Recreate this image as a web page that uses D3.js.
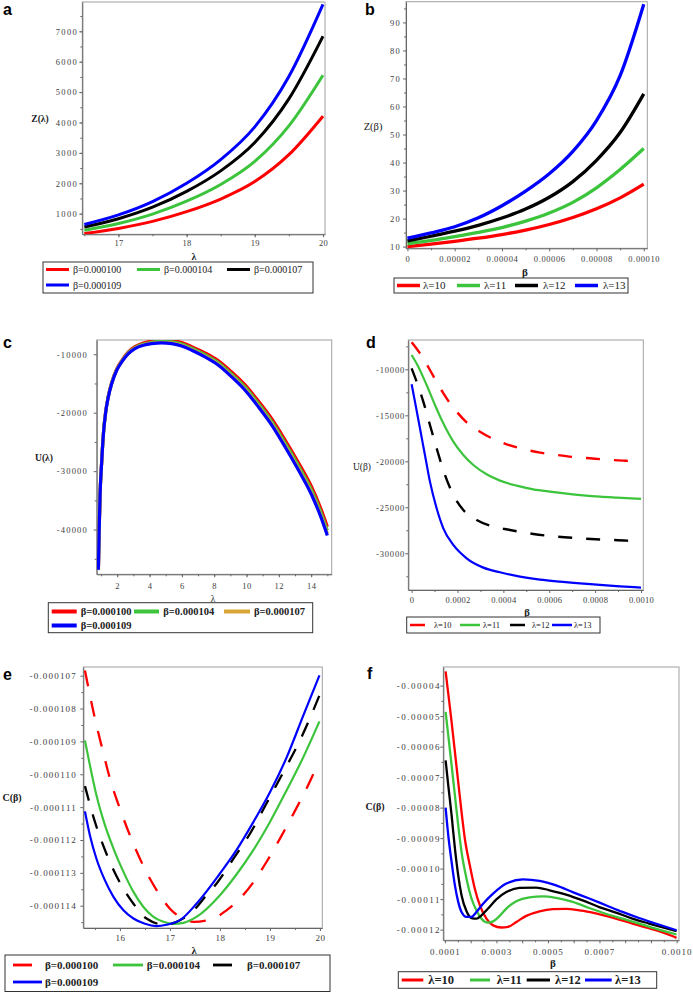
<!DOCTYPE html>
<html><head><meta charset="utf-8">
<script src="https://cdn.jsdelivr.net/npm/d3@7"></script>
<style>body{margin:0;background:#fff}svg{display:block}</style>
</head><body>
<svg id="c" width="693" height="992"></svg>
<script>
// ---------------- DATA ----------------
const betaLabels = ["β=0.000100", "β=0.000104", "β=0.000107", "β=0.000109"];
const lambdaLabels = ["λ=10", "λ=11", "λ=12", "λ=13"];

// Panel a : Z(λ)
const aLambda = [16.5, 17, 17.5, 18, 18.5, 19, 19.5, 20];
const aZ100 = [344, 512, 745, 1066, 1481, 2056, 2940, 4208];
const aZ104 = [455, 676, 986, 1410, 1959, 2719, 3888, 5555];
const aZ107 = [559, 832, 1212, 1732, 2407, 3341, 4777, 6836];
const aZ109 = [645, 959, 1397, 1998, 2777, 3855, 5512, 7887];
const aXTicks = [17, 18, 19, 20];
const aYTicks = [1000, 2000, 3000, 4000, 5000, 6000, 7000];

// Panel b : Z(β)
const bBeta = [0, 1e-5, 2e-5, 3e-5, 4e-5, 5e-5, 6e-5, 7e-5, 8e-5, 9e-5, 1e-4];
const bZ10 = [10.0, 10.9, 11.9, 13.0, 14.3, 15.9, 17.9, 20.4, 23.5, 27.4, 32.3];
const bZ11 = [11.0, 12.2, 13.6, 15.1, 16.8, 19.1, 22.0, 25.8, 31.0, 37.5, 45.0];
const bZ12 = [12.0, 13.7, 15.5, 17.6, 20.2, 23.4, 27.6, 33.2, 40.8, 50.7, 64.5];
const bZ13 = [13.0, 14.9, 17.1, 20.3, 24.6, 29.8, 36.0, 44.0, 55.0, 71.0, 96.5];
const bXTicks = [0, 2e-5, 4e-5, 6e-5, 8e-5, 1e-4];
const bYTicks = [10, 20, 30, 40, 50, 60, 70, 80, 90];

// Panel c : U(λ)
const cLambda = [0.835, 0.876, 0.938, 1.04, 1.14, 1.29, 1.45, 1.66, 1.97, 2.28, 2.69, 3.10, 3.62, 4.13, 4.75, 5.37, 5.99, 6.61, 7.43, 8.26, 9.08, 9.91, 10.73, 11.56, 12.38, 13.21, 14.03, 14.55, 15.0];
const cU100 = [-46880, -40850, -34000, -28280, -23710, -19710, -17130, -14830, -12520, -11070, -9610, -8710, -8090, -7760, -7590, -7660, -8010, -8700, -9770, -11120, -13030, -15230, -17990, -21030, -24640, -28530, -32700, -36050, -39500];
const cU104 = [-46880, -40872, -34035, -28324, -23763, -19772, -17200, -14909, -12612, -11176, -9733, -8851, -8253, -7945, -7797, -7889, -8261, -8973, -10074, -11454, -13400, -15635, -18430, -21510, -25159, -29093, -33307, -36684, -40160];
const cU107 = [-46880, -40889, -34062, -28358, -23804, -19819, -17255, -14970, -12684, -11257, -9828, -8960, -8379, -8088, -7957, -8066, -8455, -9184, -10308, -11713, -13685, -15948, -18770, -21880, -25560, -29528, -33776, -37173, -40670];
const cU109 = [-46880, -40900, -34080, -28380, -23830, -19850, -17290, -15010, -12730, -11310, -9890, -9030, -8460, -8180, -8060, -8180, -8580, -9320, -10460, -11880, -13870, -16150, -18990, -22120, -25820, -29810, -34080, -37490, -41000];
const cXTicks = [2, 4, 6, 8, 10, 12, 14];
const cYTicks = [-10000, -20000, -30000, -40000];

// Panel d : U(β)
const dBeta10 = [0, 0.363e-4, 0.799e-4, 1.163e-4, 1.526e-4, 1.962e-4, 2.398e-4, 2.980e-4, 3.561e-4, 4.142e-4, 4.869e-4, 5.596e-4, 6.323e-4, 7.049e-4, 7.776e-4, 8.503e-4, 9.230e-4, 10e-4];
const dU10 = [-7065, -8261, -10072, -11703, -13152, -14601, -15761, -16775, -17572, -18152, -18659, -19058, -19311, -19529, -19674, -19819, -19928, -20036];
const dBeta11 = [0, 0.291e-4, 0.654e-4, 1.017e-4, 1.381e-4, 1.817e-4, 2.253e-4, 2.689e-4, 3.270e-4, 3.852e-4, 4.578e-4, 5.305e-4, 6.032e-4, 6.759e-4, 7.485e-4, 8.212e-4, 8.939e-4, 10e-4];
const dU11 = [-8442, -9710, -11703, -13877, -15869, -17862, -19311, -20398, -21413, -22101, -22645, -23043, -23297, -23514, -23695, -23840, -23949, -24094];
const dBeta12 = [0, 0.218e-4, 0.509e-4, 0.799e-4, 1.090e-4, 1.453e-4, 1.817e-4, 2.253e-4, 2.834e-4, 3.416e-4, 4.288e-4, 5.305e-4, 6.323e-4, 7.340e-4, 8.358e-4, 9.375e-4, 10e-4];
const dU12 = [-9891, -11341, -13514, -16050, -18587, -21485, -23659, -25289, -26376, -26992, -27463, -27898, -28188, -28369, -28514, -28623, -28731];
const dBeta13 = [0, 0.145e-4, 0.363e-4, 0.581e-4, 0.799e-4, 1.090e-4, 1.381e-4, 1.817e-4, 2.398e-4, 3.125e-4, 3.852e-4, 4.724e-4, 5.596e-4, 6.468e-4, 7.340e-4, 8.212e-4, 9.084e-4, 10e-4];
const dU13 = [-11630, -13514, -16413, -19311, -22210, -25108, -27282, -29094, -30543, -31557, -32065, -32536, -32862, -33079, -33260, -33441, -33586, -33731];
const dXTicks = [0, 2e-4, 4e-4, 6e-4, 8e-4, 10e-4];
const dYTicks = [-10000, -15000, -20000, -25000, -30000];

// Panel e : C(β) vs λ
const eLam100 = [15.30, 15.40, 15.50, 15.63, 15.80, 16.00, 16.20, 16.40, 16.60, 16.80, 17.00, 17.20, 17.47, 17.87, 18.13, 18.40, 18.67, 18.93, 19.20, 19.47, 19.73, 19.99];
const eC100 = [-106.84e-6, -107.60e-6, -108.31e-6, -109.12e-6, -110.13e-6, -111.05e-6, -111.86e-6, -112.57e-6, -113.18e-6, -113.68e-6, -114.09e-6, -114.34e-6, -114.49e-6, -114.39e-6, -114.14e-6, -113.78e-6, -113.28e-6, -112.67e-6, -111.96e-6, -111.20e-6, -110.44e-6, -109.58e-6];
const eLam104 = [15.30, 15.40, 15.53, 15.70, 15.87, 16.07, 16.27, 16.47, 16.67, 16.87, 17.07, 17.27, 17.53, 18.00, 18.33, 18.67, 19.00, 19.33, 19.67, 19.99];
const eC104 = [-108.97e-6, -109.73e-6, -110.64e-6, -111.55e-6, -112.26e-6, -112.97e-6, -113.58e-6, -114.04e-6, -114.34e-6, -114.49e-6, -114.55e-6, -114.52e-6, -114.34e-6, -113.68e-6, -113.05e-6, -112.30e-6, -111.45e-6, -110.50e-6, -109.47e-6, -108.39e-6];
const eLam107 = [15.30, 15.50, 15.73, 16.03, 16.27, 16.53, 16.90, 17.20, 17.43, 17.73, 17.93, 18.27, 18.60, 18.93, 19.27, 19.60, 19.99];
const eC107 = [-110.36e-6, -111.45e-6, -112.42e-6, -113.38e-6, -113.94e-6, -114.39e-6, -114.58e-6, -114.44e-6, -114.21e-6, -113.68e-6, -113.33e-6, -112.57e-6, -111.81e-6, -110.89e-6, -109.93e-6, -108.97e-6, -107.60e-6];
const eLam109 = [15.30, 15.40, 15.53, 15.70, 15.87, 16.07, 16.27, 16.50, 16.73, 16.93, 17.20, 17.53, 18.00, 18.33, 18.67, 19.00, 19.33, 19.67, 19.99];
const eC109 = [-111.13e-6, -111.86e-6, -112.57e-6, -113.23e-6, -113.73e-6, -114.14e-6, -114.39e-6, -114.55e-6, -114.62e-6, -114.58e-6, -114.44e-6, -113.94e-6, -113.02e-6, -112.31e-6, -111.45e-6, -110.55e-6, -109.50e-6, -108.20e-6, -106.99e-6];
const eXTicks = [16, 17, 18, 19, 20];
const eYTicks = [-107e-6, -108e-6, -109e-6, -110e-6, -111e-6, -112e-6, -113e-6, -114e-6];

// Panel f : C(β) vs β
const fB10 = [1.026e-4, 1.129e-4, 1.258e-4, 1.387e-4, 1.515e-4, 1.644e-4, 1.773e-4, 1.966e-4, 2.160e-4, 2.353e-4, 2.611e-4, 2.869e-4, 3.191e-4, 3.448e-4, 3.771e-4, 4.157e-4, 4.673e-4, 5.188e-4, 5.704e-4, 6.219e-4, 6.735e-4, 7.250e-4, 7.765e-4, 8.281e-4, 8.796e-4, 9.312e-4, 9.827e-4, 9.995e-4];
const fC10 = [-3.53e-5, -4.26e-5, -5.19e-5, -6.17e-5, -7.16e-5, -8.14e-5, -9.02e-5, -9.89e-5, -10.66e-5, -11.20e-5, -11.64e-5, -11.86e-5, -11.93e-5, -11.91e-5, -11.75e-5, -11.55e-5, -11.40e-5, -11.33e-5, -11.32e-5, -11.37e-5, -11.44e-5, -11.55e-5, -11.67e-5, -11.80e-5, -11.93e-5, -12.05e-5, -12.21e-5, -12.27e-5];
const fB11 = [1.026e-4, 1.129e-4, 1.258e-4, 1.387e-4, 1.515e-4, 1.644e-4, 1.838e-4, 2.031e-4, 2.224e-4, 2.418e-4, 2.675e-4, 2.869e-4, 3.126e-4, 3.384e-4, 3.771e-4, 4.286e-4, 4.802e-4, 5.317e-4, 5.961e-4, 6.606e-4, 7.250e-4, 7.894e-4, 8.539e-4, 9.183e-4, 9.995e-4];
const fC11 = [-4.86e-5, -5.63e-5, -6.61e-5, -7.60e-5, -8.58e-5, -9.45e-5, -10.33e-5, -10.98e-5, -11.37e-5, -11.64e-5, -11.77e-5, -11.73e-5, -11.55e-5, -11.31e-5, -11.07e-5, -10.94e-5, -10.91e-5, -10.96e-5, -11.09e-5, -11.29e-5, -11.48e-5, -11.64e-5, -11.80e-5, -11.97e-5, -12.16e-5];
const fB12 = [1.026e-4, 1.129e-4, 1.258e-4, 1.387e-4, 1.515e-4, 1.644e-4, 1.838e-4, 2.031e-4, 2.224e-4, 2.418e-4, 2.675e-4, 2.997e-4, 3.384e-4, 3.899e-4, 4.544e-4, 5.059e-4, 5.704e-4, 6.348e-4, 6.992e-4, 7.637e-4, 8.281e-4, 8.925e-4, 9.570e-4, 9.995e-4];
const fC12 = [-6.45e-5, -7.27e-5, -8.25e-5, -9.34e-5, -10.22e-5, -10.87e-5, -11.40e-5, -11.62e-5, -11.64e-5, -11.53e-5, -11.31e-5, -11.01e-5, -10.77e-5, -10.63e-5, -10.62e-5, -10.71e-5, -10.85e-5, -11.04e-5, -11.26e-5, -11.44e-5, -11.64e-5, -11.80e-5, -11.95e-5, -12.05e-5];
const fB13 = [1.026e-4, 1.129e-4, 1.258e-4, 1.387e-4, 1.515e-4, 1.644e-4, 1.838e-4, 2.031e-4, 2.224e-4, 2.482e-4, 2.869e-4, 3.384e-4, 4.028e-4, 4.673e-4, 5.317e-4, 5.961e-4, 6.606e-4, 7.250e-4, 7.894e-4, 8.539e-4, 9.183e-4, 9.995e-4];
const fC13 = [-8.00e-5, -8.91e-5, -9.78e-5, -10.55e-5, -11.09e-5, -11.42e-5, -11.58e-5, -11.58e-5, -11.42e-5, -11.15e-5, -10.82e-5, -10.49e-5, -10.35e-5, -10.40e-5, -10.55e-5, -10.77e-5, -10.98e-5, -11.20e-5, -11.42e-5, -11.62e-5, -11.80e-5, -12.02e-5];
const fXTicks = [1e-4, 2e-4, 3e-4, 4e-4, 5e-4, 6e-4, 7e-4, 8e-4, 9e-4, 10e-4];
const fXLabelled = [1e-4, 3e-4, 5e-4, 7e-4, 10e-4];
const fYTicks = [-4e-5, -5e-5, -6e-5, -7e-5, -8e-5, -9e-5, -10e-5, -11e-5, -12e-5];

// ---------------- DRAWING ----------------
const RED = "#ff0000", GREEN = "#3cc43c", BLACK = "#000000", BLUE = "#0000ff", ORANGE = "#d9a537";
const SERIF = "'Liberation Serif','Times New Roman',serif";
const SANS = "'Liberation Sans',Arial,sans-serif";
const svg = d3.select("#c");

function range(a, b, s) { const r = []; for (let v = a; v <= b + s * 1e-6; v += s) r.push(+v.toPrecision(10)); return r; }

function panel(cfg) {
  const g = svg.append("g");
  const x = d3.scaleLinear().domain(cfg.xDomain).range([cfg.l, cfg.r]);
  const y = d3.scaleLinear().domain(cfg.yDomain).range([cfg.b, cfg.t]);
  const cid = "clip_" + cfg.name;
  g.append("clipPath").attr("id", cid).append("rect")
    .attr("x", cfg.l).attr("y", cfg.t).attr("width", cfg.r - cfg.l).attr("height", cfg.b - cfg.t);
  g.append("rect").attr("x", cfg.l).attr("y", cfg.t).attr("width", cfg.r - cfg.l).attr("height", cfg.b - cfg.t)
    .attr("fill", "none").attr("stroke", "#a0a0a0").attr("stroke-width", 1);

  // minor ticks
  g.append("g").attr("transform", `translate(0,${cfg.b})`)
    .call(d3.axisBottom(x).tickValues(cfg.xMinor).tickSize(2).tickSizeOuter(0).tickFormat(""))
    .call(s => { s.select(".domain").remove(); s.selectAll("line").attr("stroke", "#666"); });
  g.append("g").attr("transform", `translate(${cfg.l},0)`)
    .call(d3.axisLeft(y).tickValues(cfg.yMinor).tickSize(2).tickSizeOuter(0).tickFormat(""))
    .call(s => { s.select(".domain").remove(); s.selectAll("line").attr("stroke", "#666"); });

  // major x
  const xa = g.append("g").attr("transform", `translate(0,${cfg.b})`)
    .call(d3.axisBottom(x).tickValues(cfg.xTicks).tickSize(3).tickSizeOuter(0).tickFormat(cfg.xFmt));
  xa.select(".domain").attr("stroke", "#666");
  xa.selectAll("line").attr("stroke", "#666");
  xa.selectAll("text").attr("y", cfg.xLabBase - cfg.b).attr("dy", null)
    .attr("font-family", SERIF).attr("font-size", cfg.tickFs).attr("letter-spacing", cfg.xLs).attr("fill", "#404040");
  // major y
  const ya = g.append("g").attr("transform", `translate(${cfg.l},0)`)
    .call(d3.axisLeft(y).tickValues(cfg.yTicks).tickSize(3).tickSizeOuter(0).tickFormat(cfg.yFmt));
  ya.select(".domain").attr("stroke", "#666");
  ya.selectAll("line").attr("stroke", "#666");
  ya.selectAll("text").attr("x", cfg.yLabRight - cfg.l).attr("dy", "0.33em")
    .attr("font-family", SERIF).attr("font-size", cfg.tickFs).attr("letter-spacing", cfg.yLs).attr("fill", "#404040");

  // curves
  const cg = g.append("g").attr("clip-path", `url(#${cid})`);
  const line = d3.line().x(d => x(d[0])).y(d => y(d[1])).curve(d3.curveMonotoneX);
  cfg.series.forEach(s => {
    cg.append("path").datum(d3.zip(s.x, s.y)).attr("d", line)
      .attr("fill", "none").attr("stroke", s.color).attr("stroke-width", s.w)
      .attr("stroke-dasharray", s.dash || null).attr("stroke-linejoin", "round");
  });

  // texts
  cfg.texts.forEach(t => {
    g.append("text").attr("x", t.x).attr("y", t.y).attr("text-anchor", t.anchor || "middle")
      .attr("font-family", t.family || SERIF).attr("font-size", t.fs).attr("font-weight", t.bold ? "bold" : "normal")
      .attr("fill", t.fill || "#222").text(t.text);
  });

  // legend
  const L = cfg.legend;
  g.append("rect").attr("x", L.box[0]).attr("y", L.box[1]).attr("width", L.box[2] - L.box[0]).attr("height", L.box[3] - L.box[1])
    .attr("fill", "#fff").attr("stroke", "#333").attr("stroke-width", 1);
  L.items.forEach((it, i) => {
    const s = cfg.series[i];
    g.append("line").attr("x1", it[0]).attr("x2", it[1]).attr("y1", it[3]).attr("y2", it[3])
      .attr("stroke", s.color).attr("stroke-width", L.lw).attr("stroke-dasharray", s.dash ? L.dash : null);
    g.append("text").attr("x", it[2]).attr("y", it[3]).attr("dy", "0.35em")
      .attr("font-family", L.family || SERIF).attr("font-size", L.fs).attr("font-weight", L.bold ? "bold" : "normal")
      .attr("letter-spacing", L.ls || 0).attr("fill", "#222").text(L.labels[i]);
  });
}

const intFmt = d => String(d);
const negFmt = d => "-" + Math.abs(d);

// a
panel({
  name: "a", l: 82.3, r: 325, t: 2, b: 234.3,
  xDomain: [16.47, 20.03], yDomain: [321, 7964],
  xTicks: aXTicks, xMinor: range(16.5, 19.5, 0.5), xFmt: intFmt,
  yTicks: aYTicks, yMinor: range(500, 7500, 500), yFmt: intFmt,
  tickFs: 8.5, xLs: 0.3, yLs: 1.3, xLabBase: 246, yLabRight: 78,
  series: [
    { x: aLambda, y: aZ100, color: RED, w: 3 },
    { x: aLambda, y: aZ104, color: GREEN, w: 3 },
    { x: aLambda, y: aZ107, color: BLACK, w: 3 },
    { x: aLambda, y: aZ109, color: BLUE, w: 3 }],
  texts: [
    { text: "a", x: 3, y: 15, fs: 16, bold: true, family: SANS, anchor: "start", fill: "#000" },
    { text: "λ", x: 194, y: 260, fs: 10, bold: true },
    { text: "Z(λ)", x: 40, y: 122, fs: 9.5, bold: true }],
  legend: { box: [43, 262, 313, 293], lw: 3, fs: 10, labels: betaLabels,
    items: [[46, 69, 73, 269.5], [137, 160, 164, 269.5], [227, 250, 254, 269.5], [46, 69, 73, 285]] }
});

// b
panel({
  name: "b", l: 406, r: 647.3, t: 1.7, b: 248.3,
  xDomain: [-0.0000006, 0.0001015], yDomain: [9.4, 97.4],
  xTicks: bXTicks, xMinor: range(0.00001, 0.00009, 0.00002), xFmt: d => d === 0 ? "0" : d.toFixed(5),
  yTicks: bYTicks, yMinor: range(15, 95, 10), yFmt: intFmt,
  tickFs: 8.5, xLs: 0.6, yLs: 1.3, xLabBase: 262, yLabRight: 401,
  series: [
    { x: bBeta, y: bZ10, color: RED, w: 3.3 },
    { x: bBeta, y: bZ11, color: GREEN, w: 3.3 },
    { x: bBeta, y: bZ12, color: BLACK, w: 3.3 },
    { x: bBeta, y: bZ13, color: BLUE, w: 3.3 }],
  texts: [
    { text: "b", x: 365, y: 15, fs: 16, bold: true, family: SANS, anchor: "start", fill: "#000" },
    { text: "β", x: 525, y: 276, fs: 11, bold: true },
    { text: "Z(β)", x: 373, y: 130, fs: 10.5 }],
  legend: { box: [394, 278, 628, 293], lw: 3.5, fs: 11, labels: lambdaLabels,
    items: [[397, 420, 423, 285.5], [457, 480, 484, 285.5], [515, 538, 543, 285.5], [575, 598, 603, 285.5]] }
});

// c
panel({
  name: "c", l: 96.7, r: 331.7, t: 340, b: 574.3,
  xDomain: [0.73, 15.27], yDomain: [-47650, -7560],
  xTicks: cXTicks, xMinor: range(1, 15, 1), xFmt: intFmt,
  yTicks: cYTicks, yMinor: range(-45000, -15000, 10000), yFmt: negFmt,
  tickFs: 8.5, xLs: 0.5, yLs: 1.2, xLabBase: 589, yLabRight: 88,
  series: [
    { x: cLambda, y: cU100, color: RED, w: 3.2 },
    { x: cLambda, y: cU104, color: GREEN, w: 3.2 },
    { x: cLambda, y: cU107, color: ORANGE, w: 3.2 },
    { x: cLambda, y: cU109, color: BLUE, w: 3.2 }],
  texts: [
    { text: "c", x: 3, y: 348, fs: 16, bold: true, family: SANS, anchor: "start", fill: "#000" },
    { text: "λ", x: 213, y: 601.5, fs: 9.5 },
    { text: "U(λ)", x: 44, y: 461, fs: 9.5, bold: true }],
  legend: { box: [48.3, 602.7, 312.7, 632.7], lw: 4, fs: 10.5, bold: true, labels: betaLabels,
    items: [[51.7, 76.7, 80.7, 611.5], [134, 159, 163.3, 611.5], [224, 250, 254, 611.5], [51.7, 76.7, 80.7, 625.5]] }
});

// d
panel({
  name: "d", l: 408.3, r: 643.3, t: 340, b: 590,
  xDomain: [-0.0000145, 0.00101], yDomain: [-33990, -6812],
  xTicks: dXTicks, xMinor: range(0.0001, 0.0009, 0.0002), xFmt: d => d === 0 ? "0" : d.toFixed(4),
  yTicks: dYTicks, yMinor: range(-32500, -7500, 5000), yFmt: negFmt,
  tickFs: 8.5, xLs: 0.3, yLs: 0.8, xLabBase: 603, yLabRight: 405,
  series: [
    { x: dBeta10, y: dU10, color: RED, w: 2.4, dash: "14,14" },
    { x: dBeta11, y: dU11, color: GREEN, w: 2.2 },
    { x: dBeta12, y: dU12, color: BLACK, w: 2.4, dash: "14,14" },
    { x: dBeta13, y: dU13, color: BLUE, w: 2.2 }],
  texts: [
    { text: "d", x: 366, y: 348, fs: 16, bold: true, family: SANS, anchor: "start", fill: "#000" },
    { text: "β", x: 527, y: 616, fs: 10.5, bold: true },
    { text: "U(β)", x: 362, y: 470, fs: 9.5 }],
  legend: { box: [406.7, 617, 600, 633], lw: 2.5, fs: 8.5, dash: "15,30", labels: lambdaLabels,
    items: [[410, 425, 434, 625], [460, 480, 483, 625], [510, 527, 532, 625], [552, 572, 574, 625]] }
});

// e
panel({
  name: "e", l: 83.3, r: 322.3, t: 667, b: 928,
  xDomain: [15.267, 20.047], yDomain: [-114.678e-6, -106.736e-6],
  xTicks: eXTicks, xMinor: range(15.5, 19.5, 1), xFmt: intFmt,
  yTicks: eYTicks, yMinor: [-107.5e-6, -108.5e-6, -109.5e-6, -110.5e-6, -111.5e-6, -112.5e-6, -113.5e-6, -114.5e-6], yFmt: d => d.toFixed(6),
  tickFs: 9, xLs: 0.5, yLs: 1.2, xLabBase: 941, yLabRight: 77,
  series: [
    { x: eLam100, y: eC100, color: RED, w: 2.3, dash: "16,15" },
    { x: eLam104, y: eC104, color: GREEN, w: 2.2 },
    { x: eLam107, y: eC107, color: BLACK, w: 2.3, dash: "15,14" },
    { x: eLam109, y: eC109, color: BLUE, w: 2.2 }],
  texts: [
    { text: "e", x: 3, y: 680, fs: 16, bold: true, family: SANS, anchor: "start", fill: "#000" },
    { text: "λ", x: 194, y: 954, fs: 10.5, bold: true },
    { text: "C(β)", x: 12, y: 801, fs: 10, bold: true }],
  legend: { box: [5, 955, 330, 991.5], lw: 2.8, fs: 11, bold: true, dash: "19,40", labels: betaLabels,
    items: [[13, 32, 45, 965], [113, 143, 146.7, 965], [213, 233, 247, 965], [13, 42, 45, 982]] }
});

// f
panel({
  name: "f", l: 443.3, r: 679, t: 667, b: 940.3,
  xDomain: [0.0000936, 0.001009], yDomain: [-12.35e-5, -3.39e-5],
  xTicks: fXTicks, xMinor: range(1.5e-4, 9.5e-4, 1e-4), xFmt: d => fXLabelled.some(v => Math.abs(v - d) < 1e-9) ? d.toFixed(4) : "",
  yTicks: fYTicks, yMinor: range(-11.5e-5, -4.5e-5, 1e-5), yFmt: d => d.toFixed(5),
  tickFs: 9, xLs: 1, yLs: 1.5, xLabBase: 955, yLabRight: 441,
  series: [
    { x: fB10, y: fC10, color: RED, w: 2.3 },
    { x: fB11, y: fC11, color: GREEN, w: 2.3 },
    { x: fB12, y: fC12, color: BLACK, w: 2.3 },
    { x: fB13, y: fC13, color: BLUE, w: 2.3 }],
  texts: [
    { text: "f", x: 367, y: 679, fs: 16, bold: true, family: SANS, anchor: "start", fill: "#000" },
    { text: "β", x: 553, y: 967, fs: 11, bold: true },
    { text: "C(β)", x: 375, y: 810, fs: 10, bold: true }],
  legend: { box: [398.3, 971.7, 656.7, 988.3], lw: 3, fs: 12.5, bold: true, labels: lambdaLabels,
    items: [[401.7, 423.3, 428.3, 980], [470, 490, 496.7, 980], [526.7, 550, 555, 980], [585, 611.7, 615, 980]] }
});
</script>
</body></html>
